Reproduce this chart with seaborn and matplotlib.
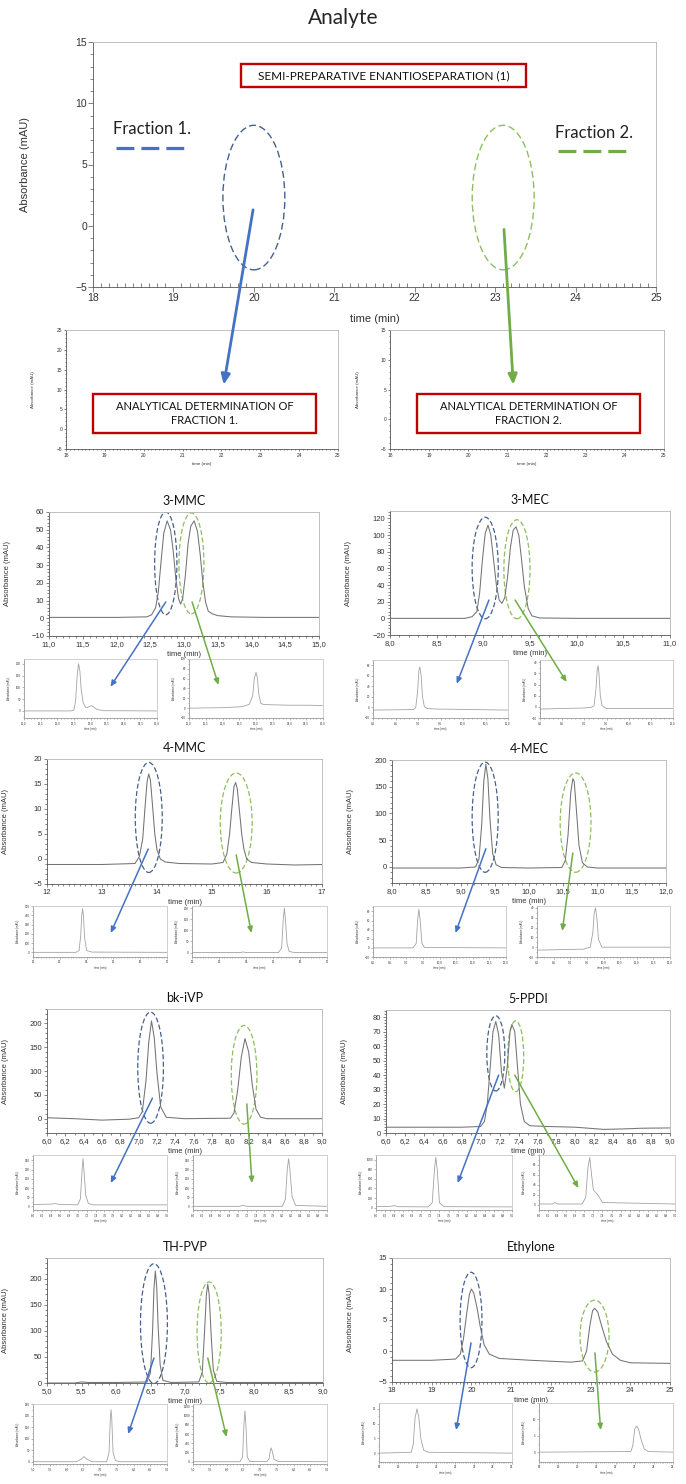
import matplotlib
matplotlib.use("Agg")
import matplotlib.pyplot as plt
import seaborn as sns
from matplotlib.patches import Ellipse, Rectangle, ConnectionPatch
from matplotlib.lines import Line2D
from matplotlib.ticker import MultipleLocator, AutoMinorLocator, FuncFormatter

# ---------------- data (time in min, absorbance in mAU) ----------------
# main chromatograms
mmc3_t = [11.0, 12.0, 12.45, 12.52, 12.58, 12.62, 12.66, 12.70, 12.75, 12.80, 12.84, 12.88, 12.92,
          12.95, 12.98, 13.02, 13.06, 13.10, 13.15, 13.20, 13.24, 13.28, 13.32, 13.36, 13.42, 13.5,
          13.7, 14.2, 15.0]
mmc3_y = [0.5, 0.5, 0.8, 2, 6, 15, 32, 48, 55, 50, 38, 22, 11, 8, 11, 24, 42, 52, 55, 49, 36, 20,
          9, 4, 2.5, 1.5, 0.8, 0.5, 0.5]
mec3_t = [8.0, 8.8, 8.88, 8.93, 8.96, 8.99, 9.02, 9.05, 9.08, 9.11, 9.14, 9.17, 9.20, 9.23, 9.26,
          9.29, 9.32, 9.35, 9.38, 9.41, 9.44, 9.48, 9.52, 9.6, 10.0, 11.0]
mec3_y = [0, 0, 2, 8, 30, 70, 102, 112, 100, 70, 40, 22, 18, 25, 50, 85, 106, 110, 100, 70, 38, 12,
          3, 0.5, 0, 0]
mmc4_t = [12.0, 13.0, 13.6, 13.68, 13.74, 13.78, 13.82, 13.85, 13.88, 13.92, 13.96, 14.0, 14.06,
          14.15, 14.4, 15.0, 15.2, 15.27, 15.32, 15.36, 15.40, 15.43, 15.46, 15.50, 15.54, 15.58,
          15.63, 15.72, 16.0, 16.5, 17.0]
mmc4_y = [-1.1, -1.1, -0.9, 0.5, 4, 10, 15.5, 17, 15.8, 10.5, 5, 1.8, 0, -0.6, -0.9, -1.0, -0.7,
          1.0, 5, 10, 14.5, 15.3, 14, 9.5, 5, 2, 0, -0.7, -1.0, -1.2, -1.1]
mec4_t = [8.0, 9.0, 9.22, 9.27, 9.31, 9.34, 9.37, 9.40, 9.43, 9.47, 9.52, 9.6, 10.0, 10.48, 10.53,
          10.57, 10.61, 10.64, 10.66, 10.69, 10.73, 10.78, 10.85, 11.0, 12.0]
mec4_y = [-2, -2, 0, 15, 80, 160, 192, 165, 90, 25, 4, -1, -2, -1, 12, 60, 140, 165, 160, 110, 40,
          8, 0, -2, -2]
ivp_t = [6.0, 6.3, 6.6, 6.9, 7.0, 7.04, 7.08, 7.11, 7.14, 7.17, 7.20, 7.24, 7.30, 7.5, 8.0, 8.04,
         8.08, 8.12, 8.16, 8.20, 8.24, 8.28, 8.33, 8.4, 9.0]
ivp_y = [2, 0, -3, -1, 2, 15, 80, 160, 205, 170, 95, 25, 3, 0, 1, 12, 60, 130, 168, 140, 70, 20, 3,
         0, 0]
ppdi_t = [6.0, 6.8, 7.0, 7.04, 7.07, 7.10, 7.13, 7.16, 7.19, 7.22, 7.25, 7.28, 7.31, 7.33, 7.36,
          7.39, 7.42, 7.46, 7.52, 7.7, 8.0, 8.3, 8.5, 8.7, 9.0]
ppdi_y = [4, 4, 4.5, 8, 20, 45, 70, 77, 68, 42, 31, 45, 70, 75, 70, 45, 20, 8, 5, 4.5, 4, 2.5, 2.8,
          3.3, 3.5]
thpvp_t = [5.0, 5.4, 5.5, 5.6, 6.0, 6.45, 6.5, 6.53, 6.55, 6.57, 6.59, 6.61, 6.64, 6.68, 6.8, 7.2,
           7.25, 7.28, 7.31, 7.33, 7.35, 7.38, 7.41, 7.46, 7.6, 9.0]
thpvp_y = [0, 0, 2, 1, 1, 2, 20, 100, 180, 215, 185, 110, 35, 5, 1, 2, 20, 90, 170, 190, 170, 90,
           25, 3, 1, 1]
ethy_t = [18.0, 19.0, 19.6, 19.72, 19.8, 19.88, 19.95, 20.0, 20.06, 20.14, 20.22, 20.32, 20.45,
          20.7, 21.5, 22.5, 22.8, 22.9, 22.98, 23.05, 23.1, 23.18, 23.28, 23.4, 23.55, 23.75, 24.0,
          25.0]
ethy_y = [-1.5, -1.5, -1.3, -0.5, 2, 6, 9.2, 10, 9.3, 7, 4, 1, -0.5, -1.2, -1.5, -1.8, -1.6, 0, 4,
          6.5, 6.9, 6.3, 4, 1.5, -0.5, -1.5, -1.9, -2.0]

# analytical re-injections of each collected fraction
mmc3_f1_t = [11.0, 12.4, 12.5, 12.55, 12.6, 12.64, 12.68, 12.72, 12.78, 12.85, 12.92, 12.98, 13.04,
             13.1, 13.2, 13.4, 15.0]
mmc3_f1_y = [0, 0, 3, 40, 150, 200, 170, 90, 35, 15, 15, 20, 22, 16, 6, 1, 0]
mmc3_f2_t = [11.0, 12.0, 12.6, 12.8, 12.9, 12.95, 13.0, 13.04, 13.08, 13.14, 13.2, 13.4, 14.0,
             14.6, 15.0]
mmc3_f2_y = [0, 1, 3, 8, 25, 60, 73, 62, 30, 10, 8, 7, 6, 6, 5]
mec3_f1_t = [8.0, 8.9, 8.95, 8.99, 9.02, 9.04, 9.07, 9.1, 9.14, 9.2, 9.4, 11.0]
mec3_f1_y = [-5, -4, 0, 30, 70, 77, 60, 20, 2, -2, -3, -5]
mec3_f2_t = [8.0, 9.0, 9.15, 9.22, 9.26, 9.29, 9.31, 9.33, 9.36, 9.4, 9.5, 11.0]
mec3_f2_y = [-2, -1, -0.5, 1, 15, 33, 37, 30, 10, 1, -1.5, -1.5]
mmc4_f1_t = [12.0, 13.6, 13.72, 13.78, 13.82, 13.85, 13.88, 13.93, 14.0, 14.2, 17.0]
mmc4_f1_y = [0, 0, 20, 180, 400, 470, 400, 150, 20, 3, 0]
mmc4_f2_t = [12.0, 13.8, 13.9, 14.0, 15.2, 15.32, 15.38, 15.42, 15.46, 15.52, 15.6, 15.8, 17.0]
mmc4_f2_y = [0, 0, 3, 0, 0, 20, 150, 200, 150, 40, 5, 0, 0]
mec4_f1_t = [8.0, 9.2, 9.3, 9.34, 9.38, 9.42, 9.47, 9.55, 12.0]
mec4_f1_y = [0, 0, 10, 60, 85, 60, 10, 1, 0]
mec4_f2_t = [8.0, 9.4, 9.6, 9.68, 9.72, 9.76, 9.8, 9.85, 9.95, 12.0]
mec4_f2_y = [-3, -2, 0, 15, 35, 40, 30, 8, 0, 0]
ivp_f1_t = [6.0, 6.4, 6.5, 6.6, 7.0, 7.06, 7.1, 7.12, 7.14, 7.18, 7.24, 7.35, 9.0]
ivp_f1_y = [10, 12, 15, 10, 8, 40, 200, 260, 200, 60, 15, 8, 8]
ivp_f2_t = [6.0, 7.05, 7.12, 7.2, 8.0, 8.07, 8.11, 8.14, 8.17, 8.22, 8.3, 9.0]
ivp_f2_y = [0, 0, 6, 0, 0, 40, 200, 260, 200, 50, 5, 0]
ppdi_f1_t = [6.0, 6.3, 6.4, 6.5, 7.15, 7.24, 7.29, 7.32, 7.35, 7.4, 7.5, 9.0]
ppdi_f1_y = [20, 25, 40, 20, 15, 100, 800, 1050, 800, 100, 20, 15]
ppdi_f2_t = [6.0, 6.3, 6.35, 6.4, 6.95, 7.03, 7.08, 7.12, 7.16, 7.2, 7.3, 7.4, 9.0]
ppdi_f2_y = [2, 2, 5, 2, 2, 15, 75, 95, 60, 30, 20, 5, 2]
thpvp_f1_t = [5.0, 6.3, 6.45, 6.52, 6.6, 6.75, 7.2, 7.27, 7.31, 7.33, 7.35, 7.39, 7.46, 7.6, 9.0]
thpvp_f1_y = [0, 0, 12, 22, 12, 0, 0, 40, 190, 225, 190, 40, 5, 0, 0]
thpvp_f2_t = [5.0, 6.4, 6.48, 6.52, 6.55, 6.58, 6.62, 6.7, 7.2, 7.27, 7.31, 7.33, 7.36, 7.42, 7.55,
              9.0]
thpvp_f2_y = [0, 0, 100, 800, 1100, 800, 100, 5, 0, 60, 250, 300, 240, 50, 5, 0]
ethy_f1_t = [18.0, 19.7, 19.8, 19.9, 20.0, 20.1, 20.2, 20.35, 20.6, 25.0]
ethy_f1_y = [0, 0.3, 3, 12, 15, 12, 5, 1, 0.3, 0]
ethy_f2_t = [18.0, 22.8, 22.9, 23.0, 23.1, 23.2, 23.35, 23.5, 23.7, 25.0]
ethy_f2_y = [0, 0.2, 2, 7, 8, 7, 3.5, 1, 0.2, 0]

compounds = ["3-MMC", "3-MEC", "4-MMC", "4-MEC", "bk-iVP", "5-PPDI", "TH-PVP", "Ethylone"]

# fraction windows marked on each chromatogram: (centre time, centre mAU, width min, height mAU)
frac1_windows = [(12.73, 31, 0.33, 58), (9.02, 60.5, 0.28, 122), (13.85, 8.3, 0.49, 22),
                 (9.36, 93, 0.38, 206), (7.13, 107, 0.28, 233), (7.16, 55, 0.19, 52),
                 (6.55, 114, 0.39, 230), (19.99, 5.0, 0.55, 15.4)]
frac2_windows = [(13.11, 31, 0.37, 57), (9.36, 59, 0.28, 119), (15.44, 7.2, 0.58, 20),
                 (10.68, 83, 0.45, 186), (8.15, 92, 0.28, 207), (7.37, 53, 0.17, 49),
                 (7.35, 97, 0.35, 194), (23.1, 2.4, 0.73, 11.6)]

# ---------------- layout ----------------
W, H = 686, 1484
BLUE, GREEN = "#4472C4", "#70AD47"
BLUE_E, GREEN_E = "#44618F", "#8DBF5F"
RED = "#C00000"
TRACE, INSET_TRACE = "#737373", "#a3a3a3"

sns.set_theme(style="ticks")
plt.rcParams["font.family"] = ["Liberation Sans", "DejaVu Sans"]
TITLE_FONT = ["Lato", "DejaVu Sans"]

fig = plt.figure(figsize=(W / 100, H / 100), dpi=100)
fig.patch.set_facecolor("white")


def rect(l, t, r, b):
    return [l / W, 1 - b / H, (r - l) / W, (b - t) / H]


def frame(ax, box, xlim, ylim, xstep, ystep, fs, comma=False, xminor=5, yminor=2,
          lab_fs=None, ylab_dx=37, xlab_dy=15, dark="#555555", light="#b5b5b5"):
    ax.set_xlim(*xlim)
    ax.set_ylim(*ylim)
    ax.xaxis.set_major_locator(MultipleLocator(xstep))
    ax.yaxis.set_major_locator(MultipleLocator(ystep))
    ax.xaxis.set_minor_locator(AutoMinorLocator(xminor))
    ax.yaxis.set_minor_locator(AutoMinorLocator(yminor))
    if comma:
        ax.xaxis.set_major_formatter(FuncFormatter(lambda v, p: f"{v:.1f}".replace(".", ",")))
    for s in ("left", "bottom"):
        ax.spines[s].set_color(dark)
    for s in ("top", "right"):
        ax.spines[s].set_color(light)
    for s in ax.spines.values():
        s.set_visible(True)
        s.set_linewidth(0.6)
    ax.tick_params(which="both", direction="out", colors=dark, labelcolor="#333333",
                   labelsize=fs, width=0.5, pad=1)
    ax.tick_params(which="major", length=max(1.2, fs * 0.45))
    ax.tick_params(which="minor", length=max(0.7, fs * 0.25))
    ax.set_facecolor("white")
    lab_fs = lab_fs or fs
    bw, bh = box[2] - box[0], box[3] - box[1]
    ax.set_ylabel("Absorbance (mAU)", fontsize=lab_fs, color="#333333")
    ax.set_xlabel("time (min)", fontsize=lab_fs, color="#333333")
    ax.yaxis.set_label_coords(-ylab_dx / bw, 0.5)
    ax.xaxis.set_label_coords(0.5, -xlab_dy / bh)


def link(ax_a, xy_a, ax_b, xy_b, color, lw, scale):
    con = ConnectionPatch(xyA=xy_a, coordsA="data", axesA=ax_a,
                          xyB=xy_b, coordsB="axes fraction", axesB=ax_b,
                          arrowstyle="-|>,head_length=0.5,head_width=0.22",
                          mutation_scale=scale, color=color, lw=lw, zorder=6)
    fig.add_artist(con)


def red_box(l, t, r, b, text, fs):
    fig.add_artist(Rectangle((l / W, 1 - b / H), (r - l) / W, (b - t) / H,
                             transform=fig.transFigure, facecolor="white", edgecolor=RED,
                             lw=1.7, zorder=7))
    fig.text((l + r) / 2 / W, 1 - (t + b) / 2 / H, text, ha="center", va="center",
             fontsize=fs, family=TITLE_FONT, color="#111111", zorder=8, linespacing=1.25)


# ---------------- top: semi-preparative run ----------------
fig.text(0.5, 1 - 18 / H, "Analyte", ha="center", va="center", fontsize=15, family=TITLE_FONT)
top_box = (93, 42, 656, 287)
ax_top = fig.add_axes(rect(*top_box))
frame(ax_top, top_box, (18, 25), (-5, 15), 1, 5, 7.5, xminor=10, yminor=5, lab_fs=8,
      ylab_dx=63, xlab_dy=27)
ax_top.tick_params(axis="x", which="minor", direction="in", length=3)
for (cx, cy, w, h), col in [((20.0, 2.3, 0.77, 11.8), BLUE_E), ((23.1, 2.3, 0.77, 11.8), GREEN_E)]:
    ax_top.add_patch(Ellipse((cx, cy), w, h, fill=False, ec=col, lw=1.0, ls=(0, (5, 2.5))))

red_box(241, 64, 526, 87, "SEMI-PREPARATIVE ENANTIOSEPARATION (1)", 8.5)
fig.text(113 / W, 1 - 129 / H, "Fraction 1.", ha="left", va="center", fontsize=12,
         family=TITLE_FONT, color="#222222")
fig.text(555 / W, 1 - 133 / H, "Fraction 2.", ha="left", va="center", fontsize=12,
         family=TITLE_FONT, color="#222222")
fig.add_artist(Line2D([116 / W, 184 / W], [1 - 148 / H] * 2, transform=fig.transFigure,
                      color=BLUE, lw=2.3, dashes=(5.6, 2.2)))
fig.add_artist(Line2D([558 / W, 627 / W], [1 - 151 / H] * 2, transform=fig.transFigure,
                      color=GREEN, lw=2.3, dashes=(5.6, 2.2)))

# analytical determination panels (empty)
mid_l_box = (66, 330, 338, 449)
mid_r_box = (390, 330, 664, 449)
ax_ml = fig.add_axes(rect(*mid_l_box))
frame(ax_ml, mid_l_box, (18, 25), (-5, 25), 1, 5, 3.5, xminor=10, yminor=5, lab_fs=3.2,
      ylab_dx=31, xlab_dy=13)
ax_mr = fig.add_axes(rect(*mid_r_box))
frame(ax_mr, mid_r_box, (18, 25), (-5, 15), 1, 5, 3.5, xminor=10, yminor=5, lab_fs=3.2,
      ylab_dx=30, xlab_dy=13)
red_box(93, 394, 316, 433, "ANALYTICAL DETERMINATION OF\nFRACTION 1.", 8)
red_box(417, 394, 640, 433, "ANALYTICAL DETERMINATION OF\nFRACTION 2.", 8)
link(ax_top, (19.99, 1.3), ax_ml, (0.58, 0.54), BLUE, 2.0, 12)
link(ax_top, (23.11, -0.3), ax_mr, (0.45, 0.54), GREEN, 2.0, 12)

# ---------------- eight compounds ----------------
traces = [(mmc3_t, mmc3_y), (mec3_t, mec3_y), (mmc4_t, mmc4_y), (mec4_t, mec4_y),
          (ivp_t, ivp_y), (ppdi_t, ppdi_y), (thpvp_t, thpvp_y), (ethy_t, ethy_y)]
frac1 = [(mmc3_f1_t, mmc3_f1_y), (mec3_f1_t, mec3_f1_y), (mmc4_f1_t, mmc4_f1_y),
         (mec4_f1_t, mec4_f1_y), (ivp_f1_t, ivp_f1_y), (ppdi_f1_t, ppdi_f1_y),
         (thpvp_f1_t, thpvp_f1_y), (ethy_f1_t, ethy_f1_y)]
frac2 = [(mmc3_f2_t, mmc3_f2_y), (mec3_f2_t, mec3_f2_y), (mmc4_f2_t, mmc4_f2_y),
         (mec4_f2_t, mec4_f2_y), (ivp_f2_t, ivp_f2_y), (ppdi_f2_t, ppdi_f2_y),
         (thpvp_f2_t, thpvp_f2_y), (ethy_f2_t, ethy_f2_y)]

# axis settings: xlim, ylim, x step, y step, comma decimals, x minor
axis_cfg = [((11, 15), (-10, 60), 0.5, 10, True, 5),
            ((8, 11), (-20, 129), 0.5, 20, True, 5),
            ((12, 17), (-5, 20), 1, 5, False, 10),
            ((8, 12), (-30, 200), 0.5, 50, True, 5),
            ((6, 9), (-30, 230), 0.2, 50, True, 2),
            ((6, 9), (0, 85), 0.2, 10, True, 2),
            ((5, 9), (0, 240), 0.5, 50, True, 5),
            ((18, 25), (-5, 15), 1, 5, False, 10)]
# inset y-ranges and steps for fraction 1 / fraction 2
inset_cfg = [(((-30, 220), 50), ((-20, 100), 20)),
             (((-20, 90), 20), ((-10, 42), 10)),
             (((-50, 500), 100), ((-20, 210), 50)),
             (((-20, 92), 20), ((-10, 42), 10)),
             (((-20, 280), 50), ((-20, 280), 50)),
             (((-50, 1100), 200), ((-10, 100), 20)),
             (((-10, 250), 50), ((-50, 1250), 200)),
             (((-3, 17), 5), ((-3, 15), 5))]
# pixel boxes: main, inset 1, inset 2
boxes = [((49, 512, 319, 636), (24, 659, 157, 718), (189, 659, 323, 718)),
         ((390, 511, 670, 635), (373, 660, 508, 718), (540, 660, 673, 718)),
         ((47, 759, 322, 884), (33, 906, 167, 957), (192, 906, 327, 957)),
         ((392, 760, 666, 883), (373, 906, 506, 957), (537, 906, 670, 957)),
         ((47, 1009, 322, 1133), (33, 1155, 167, 1210), (193, 1155, 327, 1210)),
         ((386, 1010, 670, 1133), (376, 1155, 512, 1210), (539, 1155, 675, 1210)),
         ((47, 1258, 323, 1383), (33, 1404, 167, 1464), (193, 1404, 327, 1464)),
         ((392, 1258, 670, 1382), (379, 1403, 512, 1462), (539, 1403, 673, 1462))]
# arrow tails (data on main panel) and heads (fraction of inset axes)
arrow1 = [((12.73, 9.2), (0.65, 0.53)), ((9.06, 22), (0.62, 0.59)), ((13.84, 2.0), (0.58, 0.47)),
          ((9.37, 34), (0.62, 0.47)), ((7.15, 43), (0.58, 0.49)), ((7.19, 40), (0.60, 0.49)),
          ((6.55, 48), (0.71, 0.50)), ((19.99, 1.3), (0.58, 0.54))]
arrow2 = [((13.12, 9.2), (0.22, 0.56)), ((9.34, 22), (0.20, 0.62)), ((15.44, 0.8), (0.44, 0.47)),
          ((10.64, 26), (0.19, 0.51)), ((8.18, 31), (0.44, 0.49)), ((7.36, 40), (0.29, 0.40)),
          ((7.33, 48), (0.25, 0.45)), ((23.11, -0.3), (0.46, 0.54))]

for i, name in enumerate(compounds):
    xlim, ylim, xs, ys, comma, xminor = axis_cfg[i]
    mbox, b1, b2 = boxes[i]
    ax = fig.add_axes(rect(*mbox))
    t, y = traces[i]
    sns.lineplot(x=t, y=y, ax=ax, color=TRACE, linewidth=0.75, errorbar=None)
    frame(ax, mbox, xlim, ylim, xs, ys, 5.5, comma=comma, xminor=xminor, yminor=5,
          lab_fs=5.5, ylab_dx=38, xlab_dy=15)
    ax.set_title(name, fontsize=9, family=TITLE_FONT, pad=5, color="#111111")
    for (cx, cy, w, h), col in [(frac1_windows[i], BLUE_E), (frac2_windows[i], GREEN_E)]:
        ax.add_patch(Ellipse((cx, cy), w, h, fill=False, ec=col, lw=0.9, ls=(0, (4, 2))))

    insets = []
    for b, (ft, fy), (iylim, iys) in zip((b1, b2), (frac1[i], frac2[i]), inset_cfg[i]):
        ia = fig.add_axes(rect(*b))
        sns.lineplot(x=ft, y=fy, ax=ia, color=INSET_TRACE, linewidth=0.6, errorbar=None)
        frame(ia, b, xlim, iylim, xs, iys, 2.2, comma=comma, xminor=xminor, yminor=2,
              lab_fs=2.0, ylab_dx=13, xlab_dy=9, dark="#999999", light="#c8c8c8")
        insets.append(ia)

    link(ax, arrow1[i][0], insets[0], arrow1[i][1], BLUE, 1.1, 7)
    link(ax, arrow2[i][0], insets[1], arrow2[i][1], GREEN, 1.1, 7)

fig.savefig("out.png", dpi=100, facecolor="white")
